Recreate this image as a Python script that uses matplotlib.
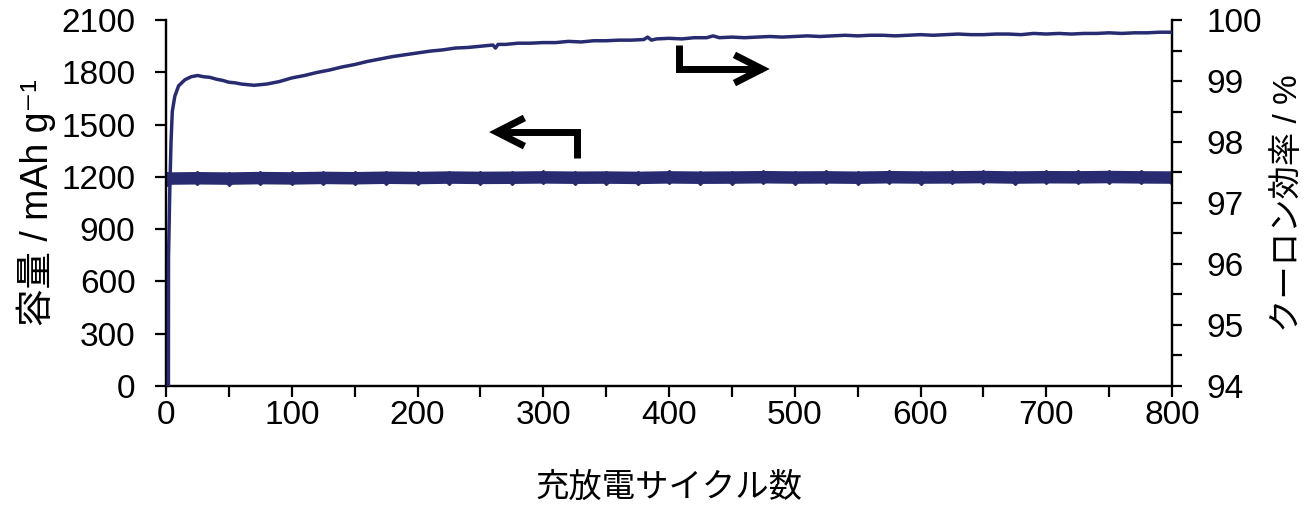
import matplotlib
matplotlib.use('Agg')
import matplotlib.pyplot as plt
from matplotlib.ticker import MultipleLocator

plt.rcParams['font.family'] = ['Liberation Sans', 'Noto Sans CJK JP', 'DejaVu Sans']

#############################################################################################
# data

# capacity (mAh/g), left axis
cap_cycles = [1, 25, 50, 75, 100, 125, 150, 175, 200, 225, 250, 275, 300, 325, 350, 375, 400,
              425, 450, 475, 500, 525, 550, 575, 600, 625, 650, 675, 700, 725, 750, 775, 800]
cap_values = [1190, 1192, 1190, 1193, 1191, 1194, 1192, 1195, 1193, 1196, 1194, 1195, 1197, 1195, 1196, 1194, 1197,
              1195, 1196, 1198, 1196, 1197, 1195, 1198, 1196, 1197, 1199, 1196, 1198, 1197, 1199, 1197, 1196]

# coulombic efficiency (%), right axis
ce_cycles = [1, 2, 3, 4, 5, 7, 10, 15, 20, 25, 30, 35, 40, 45, 50, 55, 60, 65, 70, 75, 80, 85, 90, 95,
             100, 110, 120, 130, 140, 150, 160, 170, 180, 190, 200, 210, 220, 230, 240, 250, 260, 262, 264,
             270, 280, 290, 300, 310, 320, 330, 340, 350, 360, 370, 380, 383, 386, 390, 400, 410, 420, 430,
             435, 440, 450, 460, 470, 480, 490, 500, 510, 520, 530, 540, 550, 560, 570, 580, 590, 600,
             610, 620, 630, 640, 650, 660, 670, 680, 690, 700, 710, 720, 730, 740, 750, 760, 770, 780, 790, 800]
ce_values = [70.0, 96.1, 97.2, 98.0, 98.5, 98.75, 98.92, 99.02, 99.07, 99.09, 99.07, 99.06, 99.03, 99.01,
             98.98, 98.97, 98.95, 98.94, 98.93, 98.94, 98.95, 98.97, 98.99, 99.02,
             99.05, 99.09, 99.14, 99.18, 99.23, 99.27, 99.32, 99.36, 99.40, 99.43, 99.46, 99.49, 99.51, 99.54,
             99.55, 99.57, 99.59, 99.54, 99.60, 99.60, 99.62, 99.62, 99.63, 99.63, 99.65, 99.64, 99.66, 99.66,
             99.67, 99.67, 99.68, 99.72, 99.67, 99.69, 99.70, 99.69, 99.71, 99.71, 99.74, 99.71, 99.72, 99.71,
             99.72, 99.73, 99.72, 99.73, 99.74, 99.73, 99.74, 99.75, 99.74, 99.75, 99.75, 99.74, 99.75, 99.76,
             99.75, 99.76, 99.77, 99.76, 99.76, 99.77, 99.77, 99.76, 99.78, 99.77, 99.78, 99.77, 99.78, 99.78,
             99.79, 99.78, 99.79, 99.79, 99.80, 99.80]

cap_ticks = [0, 300, 600, 900, 1200, 1500, 1800, 2100]
ce_ticks = [94, 95, 96, 97, 98, 99, 100]

navy = '#282b70'

#############################################################################################

fig = plt.figure(figsize=(13.04, 5.08), dpi=100)
ax = fig.add_axes([0.1273, 0.2402, 0.7715, 0.7204])
ax2 = ax.twinx()

ax.plot(cap_cycles, cap_values, color=navy, lw=9, marker='D', ms=7, solid_capstyle='butt', zorder=3)
ax2.plot(ce_cycles, ce_values, color=navy, lw=2.5, zorder=3)

ax.set_xlim(0, 800)
ax.set_ylim(0, 2100)
ax2.set_ylim(94, 100)
ax.set_xticks(range(0, 801, 100))
ax.xaxis.set_minor_locator(MultipleLocator(50))
ax.set_yticks(cap_ticks)
ax2.set_yticks(ce_ticks)
ax2.yaxis.set_minor_locator(MultipleLocator(0.5))

for a in (ax, ax2):
	a.spines['top'].set_visible(False)
	for s in a.spines.values():
		s.set_linewidth(1.6)
ax.tick_params(axis='both', which='major', direction='out', length=8, width=1.6, labelsize=24)
ax.tick_params(axis='x', which='minor', direction='out', length=8, width=1.6)
ax.tick_params(axis='y', pad=14)
ax.tick_params(axis='x', pad=2)
ax2.tick_params(axis='y', which='major', direction='out', length=7, width=1.6, labelsize=24, pad=18)
ax2.tick_params(axis='y', which='minor', direction='out', length=7, width=1.6)

ax.set_xlabel('充放電サイクル数', fontsize=24, labelpad=30)
ax.set_ylabel('容量 / mAh g⁻¹', fontsize=27, labelpad=4)
ax2.set_ylabel('クーロン効率 / %', fontsize=24, labelpad=8)

# direction arrows
arrow_kw = dict(color='black', lw=5, solid_capstyle='butt', solid_joinstyle='miter', clip_on=False)
ax.plot([408, 408, 474], [1957, 1819, 1819], **arrow_kw)
ax.plot([452, 474, 452], [1900, 1819, 1738], **arrow_kw)
ax.plot([327, 327, 263], [1308, 1457, 1457], **arrow_kw)
ax.plot([285, 263, 285], [1538, 1457, 1376], **arrow_kw)

plt.savefig('out.png', dpi=100)
